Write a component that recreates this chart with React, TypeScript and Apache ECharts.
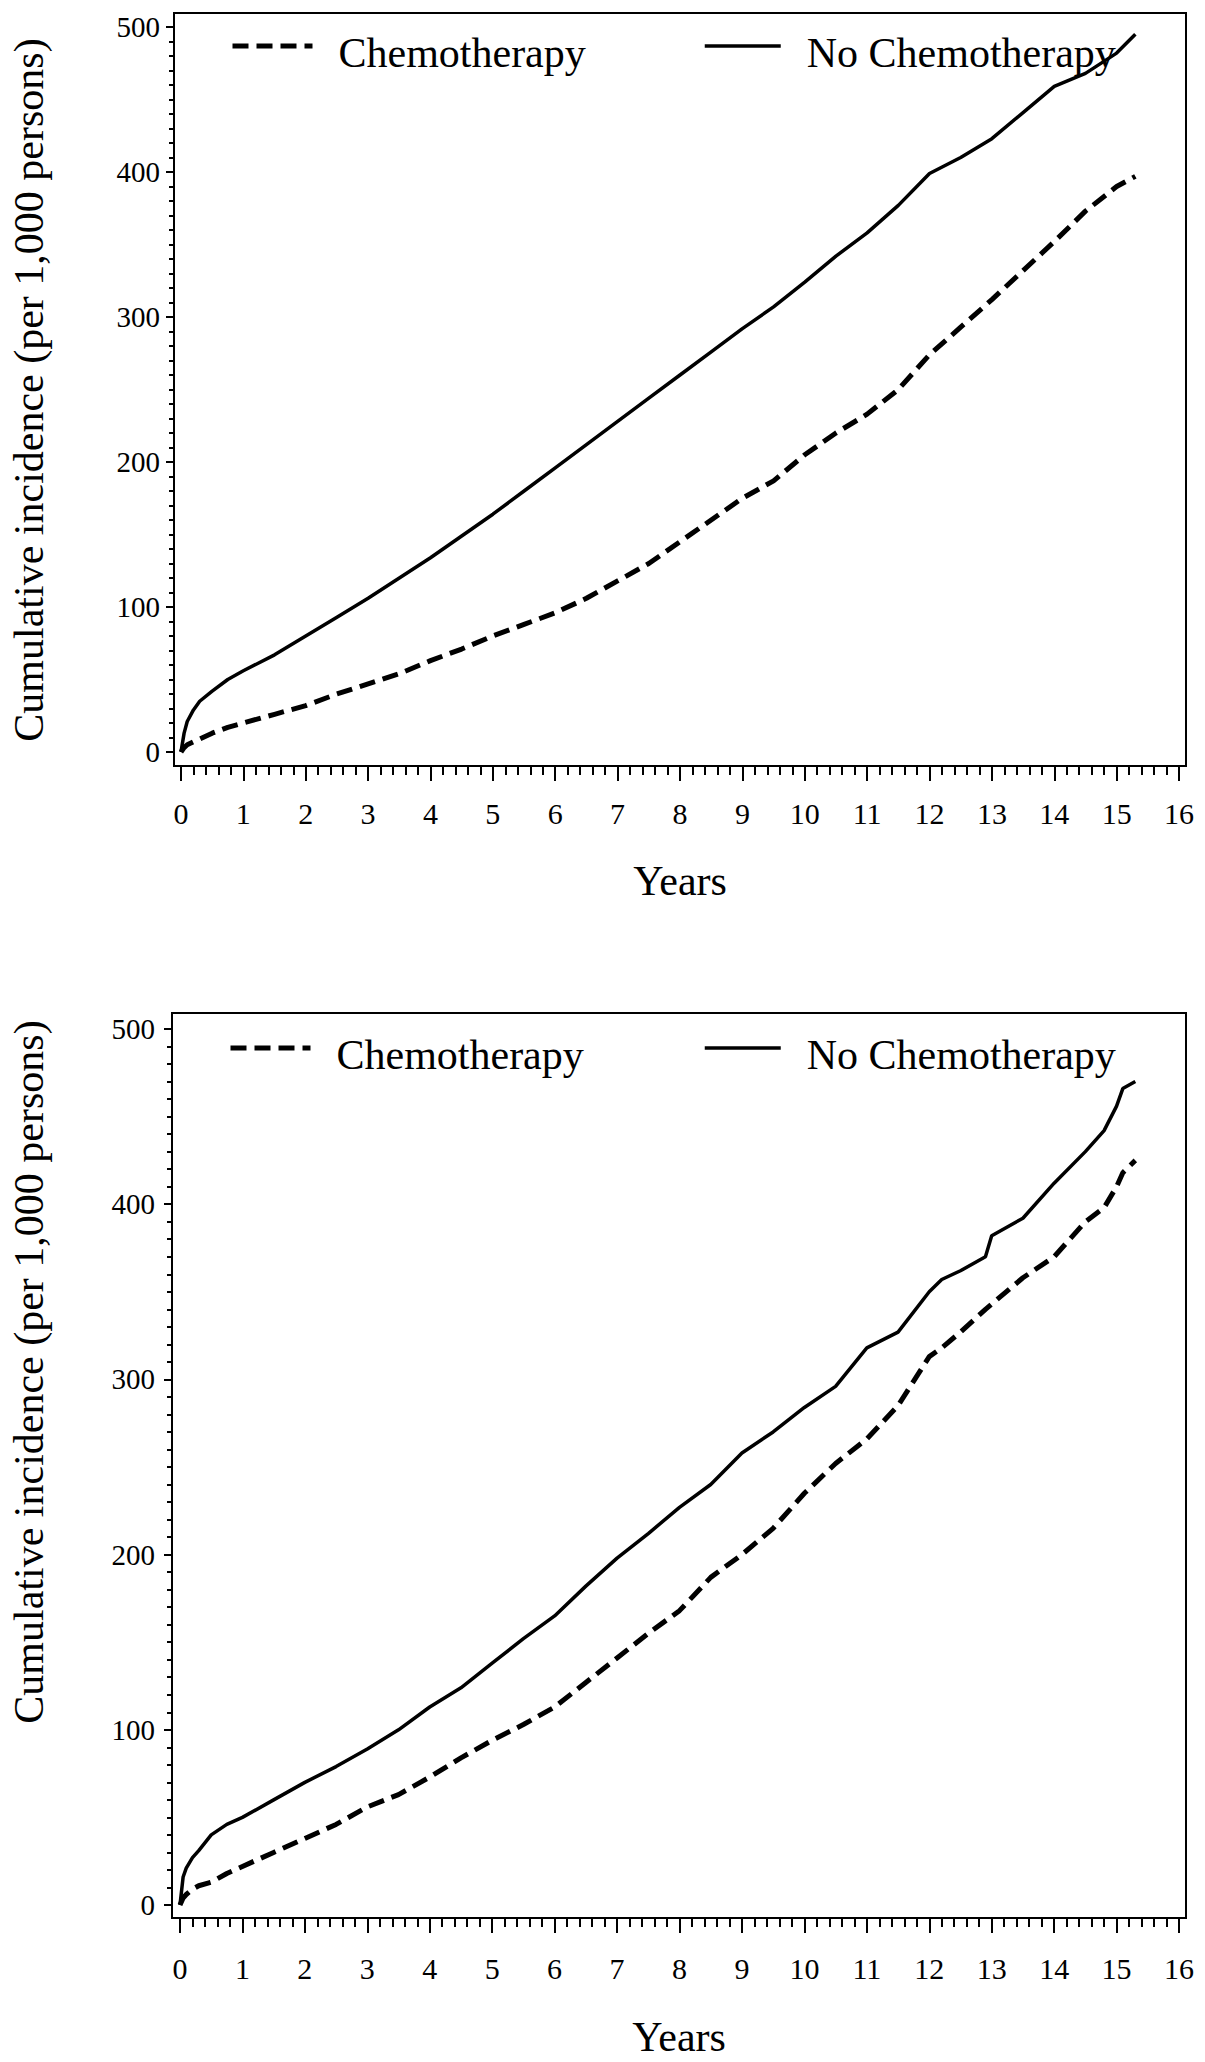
import React, { useEffect, useRef } from "react";
import * as echarts from "echarts";

const FONT = "'Liberation Serif', 'Times New Roman', serif";

// top panel
const topYears = [
  0, 0.05, 0.1, 0.2, 0.3, 0.5, 0.75, 1, 1.5, 2, 2.5, 3, 3.5, 4, 4.5, 5, 5.5, 6,
  6.5, 7, 7.5, 8, 8.5, 9, 9.5, 10, 10.5, 11, 11.5, 12, 12.5, 13, 13.5, 14, 14.5,
  15, 15.3,
];
const topChemo = [
  0, 3, 5, 7, 9, 13, 17, 20, 26, 32, 40, 47, 54, 63, 71, 80, 88, 96, 106, 118,
  130, 145, 160, 175, 187, 205, 220, 233, 250, 274, 293, 312, 332, 352, 373, 390,
  397,
];
const topNoChemo = [
  0, 13, 21, 29, 35, 42, 50, 56, 67, 80, 93, 106, 120, 134, 149, 164, 180, 196,
  212, 228, 244, 260, 276, 292, 307, 324, 342, 358, 377, 399, 410, 423, 441, 459,
  468, 482, 495,
];

// bottom panel
const bottomYears = [
  0, 0.05, 0.1, 0.2, 0.3, 0.5, 0.75, 1, 1.5, 2, 2.5, 3, 3.5, 4, 4.5, 5, 5.5, 6,
  6.5, 7, 7.5, 8, 8.5, 9, 9.5, 10, 10.5, 11, 11.5, 12, 12.2, 12.5, 12.9, 13, 13.5,
  14, 14.5, 14.8, 15, 15.1, 15.3,
];
const bottomChemo = [
  0, 4, 6, 9, 11, 13, 18, 22, 30, 38, 46, 56, 63, 73, 84, 94, 103, 113, 127, 141,
  155, 168, 187, 200, 215, 235, 252, 266, 285, 313, 318, 327, 340, 343, 358, 370,
  390, 398, 410, 418, 425,
];
const bottomNoChemo = [
  0, 16, 21, 27, 31, 40, 46, 50, 60, 70, 79, 89, 100, 113, 124, 138, 152, 165,
  182, 198, 212, 227, 240, 258, 270, 284, 296, 318, 327, 350, 357, 362, 370, 382,
  392, 412, 430, 442, 456, 466, 470,
];

const seriesNames = ["Chemotherapy", "No Chemotherapy"];
const xTitle = "Years";
const yTitle = "Cumulative incidence (per 1,000 persons)";

// tick positions
const xTicks = [0, 1, 2, 3, 4, 5, 6, 7, 8, 9, 10, 11, 12, 13, 14, 15, 16];
const yTicks = [0, 100, 200, 300, 400, 500];
const xMinorTicks = Array.from({ length: 81 }, (_, i) => +(i * 0.2).toFixed(1));
const yMinorTicks = Array.from({ length: 51 }, (_, i) => i * 10);

const pairs = (xs: number[], ys: number[]) => xs.map((x, i) => [x, ys[i]]);

const dashed = { color: "#000", width: 5, type: [16, 8] as number[] };
const solid = { color: "#000", width: 3.5, type: "solid" as const };
const tickLine = { color: "#000", width: 2 };

// each panel: frame box in px plus the axis extents that frame covers
const panels = [
  { left: 174, top: 13, width: 1012, height: 753, xMin: -0.112, xMax: 16.112, yMin: -9.66, yMax: 509.66, labelMargin: 32, nameGap: 94, yMargin: 14, legendTop: 32 },
  { left: 172, top: 1013, width: 1014, height: 905, xMin: -0.128, xMax: 16.112, yMin: -7.42, yMax: 509.13, labelMargin: 35, nameGap: 98, yMargin: 17, legendTop: 1034 },
];

const App: React.FC = () => {
  const chartRef = useRef<HTMLDivElement>(null);

  useEffect(() => {
    if (!chartRef.current) return;
    const chart = echarts.init(chartRef.current, undefined, { renderer: "svg" });

    const xAxes: any[] = [];
    const yAxes: any[] = [];
    panels.forEach((p, g) => {
      // major x axis (labels + long ticks)
      xAxes.push({
        type: "value",
        gridIndex: g,
        position: "bottom",
        min: p.xMin,
        max: p.xMax,
        name: xTitle,
        nameLocation: "middle",
        nameGap: p.nameGap,
        nameTextStyle: { fontFamily: FONT, fontSize: 42, color: "#000" },
        axisLine: { show: false, onZero: false },
        axisTick: { show: true, inside: false, length: 15, lineStyle: tickLine, customValues: xTicks },
        axisLabel: { fontFamily: FONT, fontSize: 30, color: "#000", margin: p.labelMargin, customValues: xTicks },
        splitLine: { show: false },
      });
      // minor x ticks
      xAxes.push({
        type: "value",
        gridIndex: g,
        position: "bottom",
        min: p.xMin,
        max: p.xMax,
        axisLine: { show: false, onZero: false },
        axisTick: { show: true, inside: false, length: 9, lineStyle: tickLine, customValues: xMinorTicks },
        axisLabel: { show: false },
        splitLine: { show: false },
      });
      yAxes.push({
        type: "value",
        gridIndex: g,
        position: "left",
        min: p.yMin,
        max: p.yMax,
        axisLine: { show: false, onZero: false },
        axisTick: { show: true, inside: false, length: 8, lineStyle: tickLine, customValues: yTicks },
        axisLabel: { fontFamily: FONT, fontSize: 29, color: "#000", margin: p.yMargin, customValues: yTicks },
        splitLine: { show: false },
      });
      yAxes.push({
        type: "value",
        gridIndex: g,
        position: "left",
        min: p.yMin,
        max: p.yMax,
        axisLine: { show: false, onZero: false },
        axisTick: { show: true, inside: false, length: 5, lineStyle: tickLine, customValues: yMinorTicks },
        axisLabel: { show: false },
        splitLine: { show: false },
      });
    });

    const legendFor = (k: number, left: number, top: number, itemWidth: number) => ({
      data: [seriesNames[k]],
      left,
      top,
      padding: 0,
      itemWidth,
      itemHeight: 14,
      selectedMode: false,
      itemStyle: { opacity: 0 },
      lineStyle: k === 0 ? dashed : solid,
      formatter: "{t|{name}}",
      textStyle: {
        fontFamily: FONT,
        fontSize: 42,
        color: "#000",
        rich: { t: { fontFamily: FONT, fontSize: 42, color: "#000", padding: [14, 0, 0, 21] } },
      },
    });

    const series: any[] = [];
    const panelData = [
      [pairs(topYears, topChemo), pairs(topYears, topNoChemo)],
      [pairs(bottomYears, bottomChemo), pairs(bottomYears, bottomNoChemo)],
    ];
    panelData.forEach((d, g) => {
      d.forEach((data, k) => {
        series.push({
          name: seriesNames[k],
          type: "line",
          xAxisIndex: g * 2,
          yAxisIndex: g * 2,
          symbol: "none",
          itemStyle: { color: "#000" },
          lineStyle: k === 0 ? dashed : solid,
          data,
        });
      });
    });

    const option: echarts.EChartsOption = {
      animation: false,
      backgroundColor: "#fff",
      grid: panels.map((p) => ({
        left: p.left,
        top: p.top,
        width: p.width,
        height: p.height,
        show: true,
        borderColor: "#000",
        borderWidth: 2,
        backgroundColor: "transparent",
      })),
      xAxis: xAxes,
      yAxis: yAxes,
      legend: [
        legendFor(0, 230, panels[0].legendTop, 80),
        legendFor(1, 703, panels[0].legendTop, 76),
        legendFor(0, 228, panels[1].legendTop, 80),
        legendFor(1, 703, panels[1].legendTop, 76),
      ],
      graphic: [390, 1372].map((cy) => ({
        type: "text",
        x: 29,
        y: cy,
        rotation: Math.PI / 2,
        style: {
          text: yTitle,
          font: `42px ${FONT}`,
          fill: "#000",
          align: "center",
          verticalAlign: "middle",
        },
      })),
      series,
    };

    chart.setOption(option);
    return () => chart.dispose();
  }, []);

  return (
    <div
      ref={chartRef}
      style={{ position: "absolute", left: 0, top: 0, width: 1205, height: 2062 }}
    />
  );
};

export default App;
